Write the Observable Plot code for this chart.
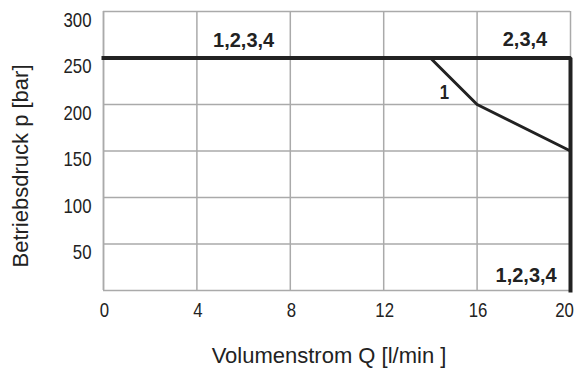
<!DOCTYPE html>
<html><head><meta charset="utf-8">
<script src="https://cdn.jsdelivr.net/npm/d3@7"></script>
<script src="https://cdn.jsdelivr.net/npm/@observablehq/plot@0.6"></script>
<style>
body{margin:0;background:#fff}
svg text{font-family:'Liberation Sans', Arial, Helvetica, sans-serif;}
</style>
</head><body><div id="chart"></div>
<script>
const xTicks = [0, 4, 8, 12, 16, 20];
const yTicks = [50, 100, 150, 200, 250, 300];
const envelopeQ = [0, 20, 20];
const envelopeP = [250, 250, 0];
const curve1Q = [14, 16, 20];
const curve1P = [250, 200, 150];
const labelText = ["1,2,3,4", "2,3,4", "1", "1,2,3,4"];
const labelQ = [6, 18.05, 14.6, 18.1];
const labelP = [269, 270, 213, 16];
const xTitle = "Volumenstrom Q [l/min ]";
const yTitle = "Betriebsdruck p [bar]";

const envelope = envelopeQ.map((q, i) => ({q, p: envelopeP[i]}));
const curve1 = curve1Q.map((q, i) => ({q, p: curve1P[i]}));
const labels = labelText.map((t, i) => ({t, q: labelQ[i], p: labelP[i]}));

const chart = Plot.plot({
  width: 574,
  height: 369,
  marginLeft: 103,
  marginRight: 4,
  marginTop: 11,
  marginBottom: 79,
  style: {background: "#fff", color: "#222", fontFamily: "'Liberation Sans', Arial, sans-serif"},
  x: {domain: [0, 20]},
  y: {domain: [0, 300]},
  marks: [
    Plot.gridX(xTicks, {stroke: "#aaa", strokeOpacity: 1, strokeWidth: 1.5}),
    Plot.gridY(yTicks, {stroke: "#aaa", strokeOpacity: 1, strokeWidth: 1.5}),
    Plot.ruleY([0], {stroke: "#aaa", strokeWidth: 1.5}),
    Plot.ruleX([0], {stroke: "#aaa", strokeWidth: 1.5}),
    Plot.axisX(xTicks.slice(0, -1), {tickSize: 0, tickPadding: 12, dx: 1, label: null, fontSize: 20, fill: "#222"}),
    Plot.axisX(xTicks.slice(-1), {tickSize: 0, tickPadding: 12, dx: -6, label: null, fontSize: 20, fill: "#222"}),
    Plot.axisY(yTicks, {tickSize: 0, tickPadding: 12, dy: 9, label: null, fontSize: 20, fill: "#222"}),
    Plot.text([xTitle], {frameAnchor: "bottom", textAnchor: "middle", lineAnchor: "middle", dx: -8, dy: 65, fontSize: 22, fill: "#222"}),
    Plot.text([yTitle], {frameAnchor: "left", textAnchor: "middle", lineAnchor: "middle", rotate: -90, dx: -83, dy: 15, fontSize: 22, fill: "#222"}),
    Plot.line(curve1, {x: "q", y: "p", stroke: "#222", strokeWidth: 3}),
    Plot.line(envelope, {x: "q", y: "p", stroke: "#222", strokeWidth: 4, strokeLinejoin: "miter", strokeLinecap: "square"}),
    Plot.text(labels, {x: "q", y: "p", text: "t", fontSize: 20, fontWeight: "bold", fill: "#222"})
  ]
});
document.getElementById("chart").appendChild(chart);

// condensed tick labels (the reference uses a narrow typeface)
const tickTexts = Array.from(chart.querySelectorAll("text")).filter(t => /^\d+$/.test(t.textContent.trim()));
for (const t of tickTexts) {
  t.style.fontSize = "20px";
  t.setAttribute("transform", ((t.getAttribute("transform") || "") + " scale(0.84,1)").trim());
}
</script>
</body></html>
